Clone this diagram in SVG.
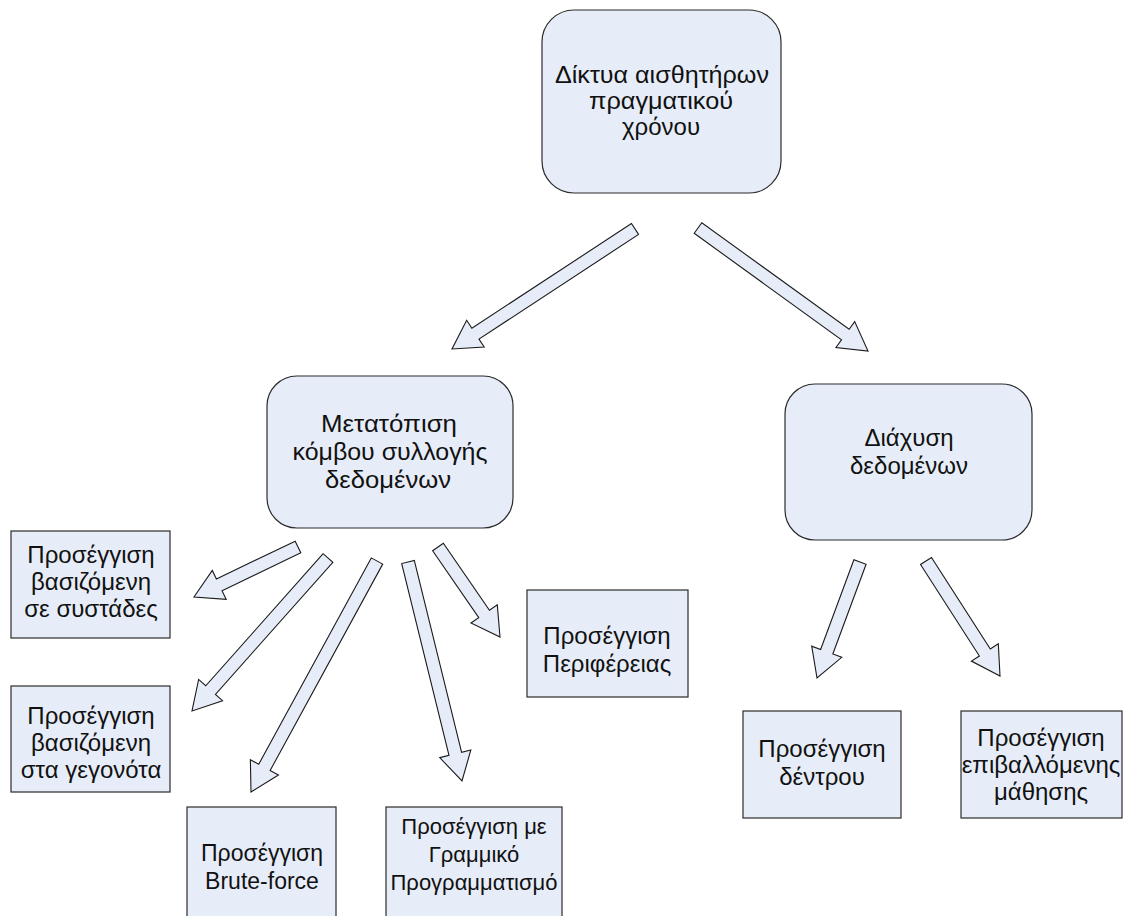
<svg xmlns="http://www.w3.org/2000/svg" width="1134" height="916" viewBox="0 0 1134 916">
<style>
.bx{fill:#e7edf8;stroke:#2b2b2b;stroke-width:1.2}
.ar{fill:#e7edf8;stroke:#1a1a1a;stroke-width:1.1;stroke-linejoin:miter}
text{font-family:"Liberation Sans",Arial,sans-serif;font-size:24px;fill:#111;text-anchor:middle}
.sm{font-size:22px}
.md{font-size:23px}
</style>
<rect width="1134" height="916" fill="#fff"/>
<g id="n-root"><rect class="bx" x="542" y="10" width="239" height="183" rx="32"/>
<text x="662" y="83" textLength="214" lengthAdjust="spacingAndGlyphs">Δίκτυα αισθητήρων</text><text x="661" y="109" textLength="144" lengthAdjust="spacingAndGlyphs">πραγματικού</text><text x="661" y="135">χρόνου</text></g>
<g id="n-move"><rect class="bx" x="267" y="376" width="246" height="152" rx="30"/>
<text x="389" y="432" textLength="136" lengthAdjust="spacingAndGlyphs">Μετατόπιση</text><text x="390" y="460" textLength="195" lengthAdjust="spacingAndGlyphs">κόμβου συλλογής</text><text x="388" y="488" textLength="126" lengthAdjust="spacingAndGlyphs">δεδομένων</text></g>
<g id="n-diff"><rect class="bx" x="785" y="384" width="247" height="156" rx="30"/>
<text x="909" y="446">Διάχυση</text><text x="909" y="474">δεδομένων</text></g>
<g id="n-cluster"><rect class="bx" x="11" y="531" width="159" height="107"/>
<text x="91" y="563">Προσέγγιση</text><text x="91" y="590">βασιζόμενη</text><text x="91" y="617">σε συστάδες</text></g>
<g id="n-event"><rect class="bx" x="11" y="686" width="159" height="106"/>
<text x="91" y="724">Προσέγγιση</text><text x="91" y="751">βασιζόμενη</text><text x="91" y="778">στα γεγονότα</text></g>
<g id="n-brute"><rect class="bx" x="187" y="807" width="149" height="130"/>
<text class="md" x="262" y="861">Προσέγγιση</text><text class="md" x="262" y="889">Brute-force</text></g>
<g id="n-lp"><rect class="bx" x="386" y="807" width="176" height="130"/>
<text class="sm" x="474" y="834">Προσέγγιση με</text><text class="sm" x="474" y="862">Γραμμικό</text><text class="sm" x="474" y="890">Προγραμματισμό</text></g>
<g id="n-perif"><rect class="bx" x="527" y="590" width="161" height="107"/>
<text x="607" y="644">Προσέγγιση</text><text x="607" y="672">Περιφέρειας</text></g>
<g id="n-tree"><rect class="bx" x="743" y="711" width="158" height="107"/>
<text x="822" y="757">Προσέγγιση</text><text x="822" y="785">δέντρου</text></g>
<g id="n-learn"><rect class="bx" x="961" y="711" width="161" height="107"/>
<text x="1041" y="746">Προσέγγιση</text><text x="1041" y="773">επιβαλλόμενης</text><text x="1041" y="800">μάθησης</text></g>
<g id="connectors">
<polygon class="ar" points="631.44,223.56 471.86,328.2 466.65,320.26 452,349 484.19,347.02 478.98,339.08 638.56,234.44"/>
<polygon class="ar" points="694.19,233.27 841.5,339.85 835.93,347.54 868,351 854.69,321.62 849.12,329.31 701.81,222.73"/>
<polygon class="ar" points="295.18,541.14 216.41,579.01 212.3,570.45 194,597 226.16,599.29 222.05,590.73 300.82,552.86"/>
<polygon class="ar" points="323.14,553.68 205.74,685.75 198.64,679.44 192,711 222.56,700.7 215.46,694.39 332.86,562.32"/>
<polygon class="ar" points="371.29,557.89 258.7,764.31 250.36,759.76 251,792 278.46,775.08 270.12,770.53 382.71,564.11"/>
<polygon class="ar" points="401.69,563.56 448.99,755.38 439.77,757.65 462,781 470.83,749.99 461.61,752.26 414.31,560.44"/>
<polygon class="ar" points="432.65,550.69 478.77,617.63 470.95,623.02 500,637 497.29,604.86 489.47,610.25 443.35,543.31"/>
<polygon class="ar" points="853.9,559.74 820.63,649.48 811.73,646.18 817,678 841.73,657.3 832.83,654 866.1,564.26"/>
<polygon class="ar" points="920.53,564.52 979.38,655.97 971.39,661.11 1000,676 998.31,643.79 990.32,648.93 931.47,557.48"/>
</g>
</svg>
